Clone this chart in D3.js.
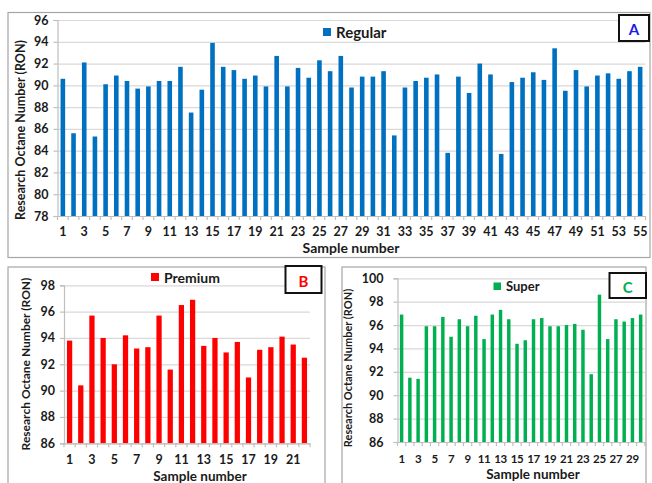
<!DOCTYPE html>
<html>
<head>
<meta charset="utf-8">
<script src="https://cdn.jsdelivr.net/npm/d3@7"></script>
<style>
  body { margin: 0; background: #fff; }
  svg { display: block; }
  text { font-family: Lato, "Liberation Sans", sans-serif; font-weight: bold; fill: #1a1a1a; }
</style>
</head>
<body>
<svg id="chart" width="652" height="483"></svg>
<script>
// Research octane number (RON) per sample, three fuel grades
const regularRON = [
  90.6, 85.6, 92.1, 85.3, 90.1, 90.9, 90.4, 89.7, 89.9, 90.4,
  90.4, 91.7, 87.5, 89.6, 93.9, 91.7, 91.4, 90.6, 90.9, 89.9,
  92.7, 89.9, 91.6, 90.7, 92.3, 91.3, 92.7, 89.8, 90.8, 90.8,
  91.3, 85.4, 89.8, 90.4, 90.7, 91.0, 83.8, 90.8, 89.3, 92.0,
  91.0, 83.7, 90.3, 90.7, 91.2, 90.5, 93.4, 89.5, 91.4, 89.9,
  90.9, 91.1, 90.6, 91.3, 91.7
];
const premiumRON = [
  93.8, 90.4, 95.7, 94.0, 92.0, 94.2, 93.2, 93.3, 95.7, 91.6,
  96.5, 96.9, 93.4, 94.0, 92.9, 93.7, 91.0, 93.1, 93.3, 94.1,
  93.5, 92.5
];
const superRON = [
  96.9, 91.5, 91.4, 95.9, 95.9, 96.7, 95.0, 96.5, 95.9, 96.8,
  94.8, 96.9, 97.3, 96.5, 94.4, 94.7, 96.5, 96.6, 95.9, 95.9,
  96.0, 96.1, 95.6, 91.8, 98.6, 94.8, 96.5, 96.3, 96.6, 96.9
];

const regularTicks = d3.range(78, 97, 2);
const premiumTicks = d3.range(86, 99, 2);
const superTicks = d3.range(86, 101, 2);

const seriesNames = ["Regular", "Premium", "Super"];
const panelLetters = ["A", "B", "C"];

const svg = d3.select("#chart");

function drawPanel(p) {
  const g = svg.append("g");
  const n = p.values.length;
  const samples = d3.range(1, n + 1);

  // panel frame
  g.append("rect")
    .attr("x", p.frame[0]).attr("y", p.frame[1])
    .attr("width", p.frame[2]).attr("height", p.frame[3])
    .attr("fill", "#fff").attr("stroke", "#a6a6a6").attr("stroke-width", 1.2);

  const x = d3.scaleBand().domain(samples).range(p.xRange).paddingInner(p.pad).paddingOuter(p.pad / 2);
  const y = d3.scaleLinear().domain(p.yDomain).range(p.yRange);

  // horizontal gridlines
  g.append("g").selectAll("line").data(p.ticks).join("line")
    .attr("x1", p.xRange[0]).attr("x2", p.xRange[1])
    .attr("y1", d => y(d) + 0.5).attr("y2", d => y(d) + 0.5)
    .attr("stroke", "#d9d9d9").attr("stroke-width", 1.2);

  // bars
  g.append("g").selectAll("rect").data(p.values).join("rect")
    .attr("x", (d, i) => x(i + 1))
    .attr("width", x.bandwidth())
    .attr("y", d => y(d))
    .attr("height", d => y(p.yDomain[0]) - y(d))
    .attr("fill", p.color);

  // y axis
  const ya = g.append("g")
    .attr("transform", `translate(${p.xRange[0]},0)`)
    .call(d3.axisLeft(y).tickValues(p.ticks).tickSize(4).tickPadding(p.yPad).tickFormat(d3.format("d")));
  ya.selectAll("path, line").attr("stroke", "#bfbfbf").attr("stroke-width", 1.2);
  ya.selectAll("text").attr("font-size", p.yFont).attr("fill", "#1a1a1a")
    .style("font-family", "Lato, sans-serif").style("font-weight", "bold");

  // x axis with labels on odd sample numbers
  const xa = g.append("g")
    .attr("transform", `translate(0,${p.yRange[0]})`)
    .call(d3.axisBottom(x).tickValues(samples.filter(s => s % 2 === 1)).tickSize(0).tickPadding(p.xPad));
  xa.select("path").attr("stroke", "#bfbfbf").attr("stroke-width", 1.2);
  xa.selectAll("text").attr("font-size", p.xFont).attr("fill", "#1a1a1a")
    .style("font-family", "Lato, sans-serif").style("font-weight", "bold")
    .attr("letter-spacing", p.xSpacing);

  // category boundary tick marks
  const step = x.step();
  const bounds = d3.range(0, n + 1).map(i => p.xRange[0] + i * step);
  g.append("g").selectAll("line").data(bounds).join("line")
    .attr("x1", d => d).attr("x2", d => d)
    .attr("y1", p.yRange[0]).attr("y2", p.yRange[0] + 4)
    .attr("stroke", "#bfbfbf").attr("stroke-width", 1.2);

  // axis titles
  g.append("text")
    .attr("transform", `translate(${p.yTitle[0]},${p.yTitle[1]}) rotate(-90)`)
    .attr("text-anchor", "middle").attr("dominant-baseline", "central")
    .attr("font-size", p.yTitle[2])
    .text("Research Octane Number (RON)");
  g.append("text")
    .attr("x", p.xTitle[0]).attr("y", p.xTitle[1])
    .attr("text-anchor", "middle").attr("font-size", p.xTitle[2])
    .text("Sample number");

  // legend
  g.append("rect")
    .attr("x", p.legend[0]).attr("y", p.legend[1])
    .attr("width", p.legend[2]).attr("height", p.legend[2])
    .attr("fill", p.color);
  g.append("text")
    .attr("x", p.legend[0] + p.legend[2] + 5).attr("y", p.legend[1] + p.legend[2] / 2)
    .attr("dominant-baseline", "central").attr("font-size", p.legend[3])
    .text(p.name);

  // panel letter box
  g.append("rect")
    .attr("x", p.box[0]).attr("y", p.box[1])
    .attr("width", p.box[2]).attr("height", p.box[3])
    .attr("fill", "#fff").attr("stroke", "#111").attr("stroke-width", 2);
  g.append("text")
    .attr("x", p.box[0] + p.box[2] / 2).attr("y", p.box[1] + p.box[3] / 2 + 1)
    .attr("text-anchor", "middle").attr("dominant-baseline", "central")
    .attr("font-size", 15).style("fill", p.letterColor)
    .text(p.letter);
}

drawPanel({
  values: regularRON, ticks: regularTicks, name: seriesNames[0], letter: panelLetters[0],
  color: "#0070c0", letterColor: "#1c1ce0",
  frame: [8, 12.5, 642, 245],
  xRange: [57.5, 645.5], yDomain: [78, 96], yRange: [216, 20], pad: 0.57,
  yPad: 5, xPad: 11.5, yFont: 12.5, xFont: 12.5, xSpacing: 0,
  yTitle: [20, 130, 12.5], xTitle: [351, 253, 14],
  legend: [323, 28, 8, 15], box: [619, 15, 30, 26]
});

drawPanel({
  values: premiumRON, ticks: premiumTicks, name: seriesNames[1], letter: panelLetters[1],
  color: "#ff0000", letterColor: "#ff0000",
  frame: [8, 267, 317, 240],
  xRange: [64, 310], yDomain: [86, 98], yRange: [443.3, 285.3], pad: 0.53,
  yPad: 5, xPad: 11.5, yFont: 12.5, xFont: 12.5, xSpacing: 0,
  yTitle: [25, 364, 12], xTitle: [200, 480.5, 13.5],
  legend: [151, 273, 8, 14], box: [285.5, 266, 36, 27]
});

drawPanel({
  values: superRON, ticks: superTicks, name: seriesNames[2], letter: panelLetters[2],
  color: "#00b050", letterColor: "#00b050",
  frame: [342, 267, 304, 240],
  xRange: [397.5, 644.8], yDomain: [86, 100], yRange: [442, 278.3], pad: 0.58,
  yPad: 10, xPad: 12.5, yFont: 12.5, xFont: 11.5, xSpacing: -0.3,
  yTitle: [347, 368, 11], xTitle: [533, 478.5, 13.5],
  legend: [493.5, 282.5, 7.5, 13], box: [609.5, 273, 36.5, 25]
});
</script>
</body>
</html>
